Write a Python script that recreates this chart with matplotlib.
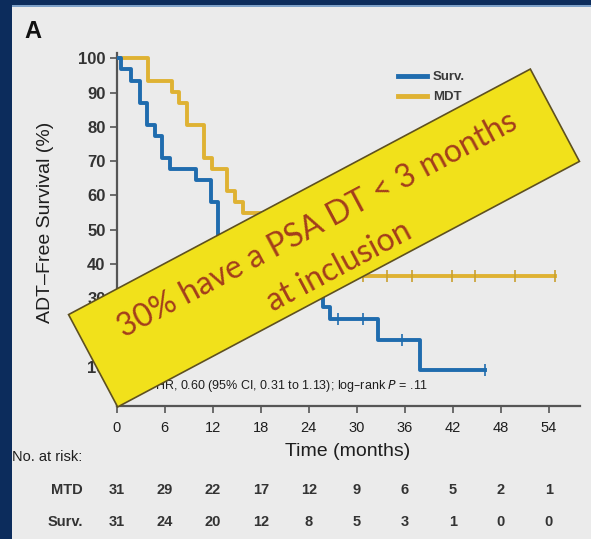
import matplotlib
matplotlib.use("Agg")
import matplotlib.pyplot as plt
from matplotlib import font_manager
from matplotlib.patches import Polygon, Rectangle
import numpy as np

# ---------------- data ----------------
surv_times = [0, 0.5, 1.75, 2.9, 3.75, 4.8, 5.6, 6.7, 9.9, 11.75, 12.7, 14.0, 15.5,
              17.0, 19.0, 21.5, 25.75, 26.7, 32.7, 37.9, 46.0]
surv_values = [100, 96.8, 93.5, 87.1, 80.6, 77.4, 71.0, 67.7, 64.5, 58.1, 48.4, 45.2, 41.9,
               38.7, 35.5, 31.2, 27.4, 24.0, 17.7, 9.0, 9.0]
surv_censor = [27.7, 30.8, 35.6, 46.0]

mdt_times = [0, 3.95, 6.9, 7.8, 8.75, 10.9, 11.9, 13.75, 14.8, 15.8, 19.5, 20.5, 22.0,
             23.5, 25.0, 27.0, 54.8]
mdt_values = [100, 93.5, 90.3, 87.1, 80.6, 71.0, 67.7, 61.3, 58.1, 54.8, 51.6, 48.4, 45.2,
              41.9, 38.7, 36.5, 36.5]
mdt_censor = [30.8, 33.75, 36.9, 41.9, 44.8, 49.8, 54.8]

x_ticks = [0, 6, 12, 18, 24, 30, 36, 42, 48, 54]
y_ticks = [10, 20, 30, 40, 50, 60, 70, 80, 90, 100]
risk_mtd = [31, 29, 22, 17, 12, 9, 6, 5, 2, 1]
risk_surv = [31, 24, 20, 12, 8, 5, 3, 1, 0, 0]

# ---------------- style ----------------
W, H = 591, 539
names = {f.name for f in font_manager.fontManager.ttflist}
SANS = 'Liberation Sans' if 'Liberation Sans' in names else 'DejaVu Sans'
BANNER_FONT = 'Lato' if 'Lato' in names else 'DejaVu Sans'
BG = '#ebebeb'
NAVY = '#0c2c5c'
BLUE = '#1f6cae'
GOLD = '#dfb233'
AXC = '#555555'
TXT = '#1e1e1e'

fig = plt.figure(figsize=(W / 100, H / 100), dpi=100, facecolor=BG)


def fx(px):
    return px / W


def fy(py):
    return 1 - py / H


def step_value(times, values, t):
    idx = max(i for i, s in enumerate(times) if s <= t)
    return values[idx]


ax_left, ax_right, ax_top, ax_bottom = 116.7, 580.0, 53.3, 406.0
ax = fig.add_axes([fx(ax_left), fy(ax_bottom), fx(ax_right - ax_left), (ax_bottom - ax_top) / H])
ax.set_facecolor(BG)
ax.set_xlim(0, 57.9)
ax.set_ylim(-1.5, 101.5)

ax.step(surv_times, surv_values, where='post', color=BLUE, lw=2.8, label='Surv.', zorder=3)
ax.step(mdt_times, mdt_values, where='post', color=GOLD, lw=2.8, label='MDT', zorder=2)
surv_c = [step_value(surv_times, surv_values, t) for t in surv_censor]
mdt_c = [step_value(mdt_times, mdt_values, t) for t in mdt_censor]
ax.plot(surv_censor, surv_c, ls='none', marker='|', ms=9, mew=1.2, color=BLUE, zorder=3)
ax.plot(mdt_censor, mdt_c, ls='none', marker='|', ms=9, mew=1.2, color='#c9a030', zorder=2)

for s in ['top', 'right']:
    ax.spines[s].set_visible(False)
for s in ['left', 'bottom']:
    ax.spines[s].set_color(AXC)
    ax.spines[s].set_linewidth(1.6)

ax.set_xticks(x_ticks)
ax.set_xticklabels([str(v) for v in x_ticks], fontfamily=SANS, fontsize=10.5, color=TXT)
ax.set_yticks(y_ticks)
ax.set_yticklabels([str(v) for v in y_ticks], fontfamily=SANS, fontsize=12,
                   fontweight='bold', color='#333333')
ax.tick_params(axis='both', direction='out', length=5, width=1.2, color=AXC)
ax.tick_params(axis='x', pad=6)
ax.tick_params(axis='y', pad=3)

leg = ax.legend(loc='upper left', bbox_to_anchor=((398 - ax_left) / (ax_right - ax_left),
                                                   (ax_bottom - 71) / (ax_bottom - ax_top)),
                frameon=False, borderpad=0, borderaxespad=0, handlelength=2.2,
                handletextpad=0.45, labelspacing=0.6,
                prop={'family': SANS, 'size': 9.5, 'weight': 'bold'})
for t in leg.get_texts():
    t.set_color('#3a3a3a')
for l in leg.get_lines():
    l.set_linewidth(3.5)

ax.text((428 - ax_left) / 8.0, (400.7 - 386) / 3.44,
        'HR, 0.60 (95% CI, 0.31 to 1.13); log\u2013rank $P$ = .11',
        ha='right', va='center', fontsize=9, fontfamily=SANS, color=TXT)

# labels outside axes
fig.text(fx(46), fy(222), 'ADT\u2013Free Survival (%)', rotation=90, ha='center', va='center',
         fontsize=14, fontfamily=SANS, color=TXT)
fig.text(fx(348), fy(452), 'Time (months)', ha='center', va='center',
         fontsize=14, fontfamily=SANS, color=TXT)
fig.text(fx(12), fy(457), 'No. at risk:', ha='left', va='center',
         fontsize=10.5, fontfamily=SANS, color=TXT)
fig.text(fx(83), fy(490), 'MTD', ha='right', va='center', fontsize=10.5,
         fontfamily=SANS, fontweight='bold', color='#333333')
fig.text(fx(83), fy(522), 'Surv.', ha='right', va='center', fontsize=10.5,
         fontfamily=SANS, fontweight='bold', color='#333333')
for xt, a, b in zip(x_ticks, risk_mtd, risk_surv):
    px = ax_left + xt * 8.0
    fig.text(fx(px), fy(490), str(a), ha='center', va='center', fontsize=10.5,
             fontfamily=SANS, fontweight='bold', color='#333333')
    fig.text(fx(px), fy(522), str(b), ha='center', va='center', fontsize=10.5,
             fontfamily=SANS, fontweight='bold', color='#333333')
fig.text(fx(33), fy(31), 'A', ha='center', va='center', fontsize=17,
         fontfamily=SANS, fontweight='bold', color='#111111')

# overlay for frame and banner
ov = fig.add_axes([0, 0, 1, 1], zorder=10)
ov.set_xlim(0, W)
ov.set_ylim(H, 0)
ov.axis('off')
ov.add_patch(Rectangle((0, 0), 11.5, H, color=NAVY, lw=0))
ov.add_patch(Rectangle((0, 0), W, 5, color=NAVY, lw=0))
ov.add_patch(Rectangle((11.5, 5), W, 1.5, color='#7da0c8', lw=0))

cx, cy, bw, bh, ang = 324.0, 238.0, 523.0, 104.6, 28.0
th = np.deg2rad(ang)
u = np.array([np.cos(th), -np.sin(th)])
v = np.array([np.sin(th), np.cos(th)])
c = np.array([cx, cy])
corners = [c - bw / 2 * u - bh / 2 * v, c + bw / 2 * u - bh / 2 * v,
           c + bw / 2 * u + bh / 2 * v, c - bw / 2 * u + bh / 2 * v]
ov.add_patch(Polygon(corners, closed=True, facecolor='#f1e11b', edgecolor='#5e5020', lw=1.2))
l1 = c - 15 * v
l2 = c + 32.6 * v
ov.text(l1[0], l1[1], '30% have a PSA DT < 3 months', rotation=ang, rotation_mode='anchor',
        ha='center', va='center', fontsize=23, fontfamily=BANNER_FONT, color='#a33d1c')
ov.text(l2[0], l2[1], 'at inclusion', rotation=ang, rotation_mode='anchor',
        ha='center', va='center', fontsize=23, fontfamily=BANNER_FONT, color='#a33d1c')

fig.savefig('out.png', dpi=100, facecolor=BG)
